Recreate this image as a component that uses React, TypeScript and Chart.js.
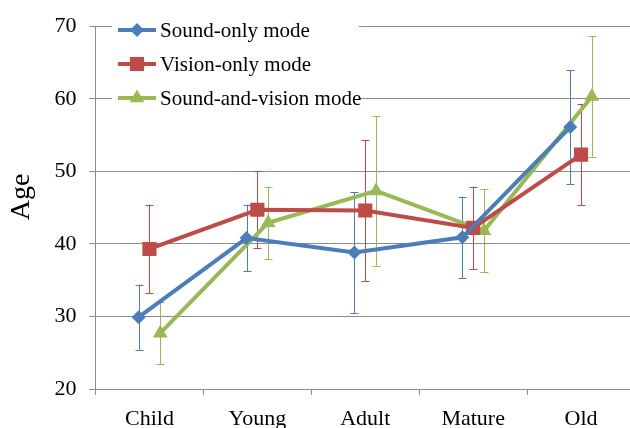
import React, { useEffect, useRef } from 'react';
import { Chart, registerables } from 'chart.js';
Chart.register(...registerables);

const categories = ['Child', 'Young', 'Adult', 'Mature', 'Old'];
const seriesNames = ['Sound-only mode', 'Vision-only mode', 'Sound-and-vision mode'];
const soundOnly = [29.9, 40.8, 38.8, 40.9, 56.1];
const soundOnlyErr = [4.5, 4.6, 8.3, 5.6, 7.8];
const visionOnly = [39.3, 44.7, 44.6, 42.2, 52.3];
const visionOnlyErr = [6.1, 5.3, 9.7, 5.7, 7.0];
const soundVision = [27.7, 42.9, 47.3, 41.8, 60.3];
const soundVisionErr = [4.3, 5.0, 10.3, 5.7, 8.3];
const yTicks = [20, 30, 40, 50, 60, 70];
const yTitle = 'Age';

const colors = ['#4a7ebb', '#be4b48', '#98b954'];
const markers = ['rectRot', 'rect', 'triangle'];
const radii = [7, 10, 8.5];
const xOffsets = [-0.1, 0, 0.1];
const FONT = '"Liberation Serif", "Times New Roman", serif';
const GRID = '#8c8c8c';

const seriesValues = [soundOnly, visionOnly, soundVision];
const seriesErrors = [soundOnlyErr, visionOnlyErr, soundVisionErr];

function drawMarker(ctx: CanvasRenderingContext2D, style: string, x: number, y: number, r: number) {
  ctx.beginPath();
  if (style === 'rectRot') {
    ctx.moveTo(x, y - r);
    ctx.lineTo(x + r, y);
    ctx.lineTo(x, y + r);
    ctx.lineTo(x - r, y);
  } else if (style === 'rect') {
    const s = Math.SQRT1_2 * r;
    ctx.rect(x - s, y - s, 2 * s, 2 * s);
  } else {
    const h = r * Math.sqrt(3) / 2;
    ctx.moveTo(x, y - r);
    ctx.lineTo(x + h, y + r / 2);
    ctx.lineTo(x - h, y + r / 2);
  }
  ctx.closePath();
  ctx.fill();
}

const errorBarPlugin = {
  id: 'errorBars',
  beforeDatasetsDraw(chart: any) {
    const ctx = chart.ctx;
    const xs = chart.scales.xl;
    const ys = chart.scales.y;
    ctx.save();
    seriesValues.forEach((vals, s) => {
      ctx.strokeStyle = colors[s];
      ctx.lineWidth = 1;
      vals.forEach((v, i) => {
        const x = Math.round(xs.getPixelForValue(i + xOffsets[s])) + 0.5;
        const t = ys.getPixelForValue(v + seriesErrors[s][i]);
        const b = ys.getPixelForValue(v - seriesErrors[s][i]);
        ctx.beginPath();
        ctx.moveTo(x, t);
        ctx.lineTo(x, b);
        ctx.moveTo(x - 4, Math.round(t) + 0.5);
        ctx.lineTo(x + 4, Math.round(t) + 0.5);
        ctx.moveTo(x - 4, Math.round(b) + 0.5);
        ctx.lineTo(x + 4, Math.round(b) + 0.5);
        ctx.stroke();
      });
    });
    ctx.restore();
  },
};

const legendPlugin = {
  id: 'customLegend',
  afterDatasetsDraw(chart: any) {
    const ctx = chart.ctx;
    ctx.save();
    ctx.fillStyle = '#ffffff';
    ctx.fillRect(112, 8, 247, 104);
    const rows = [30, 64, 98];
    seriesNames.forEach((name, s) => {
      const y = rows[s];
      ctx.strokeStyle = colors[s];
      ctx.lineWidth = 4;
      ctx.beginPath();
      ctx.moveTo(118, y);
      ctx.lineTo(156, y);
      ctx.stroke();
      ctx.fillStyle = colors[s];
      drawMarker(ctx, markers[s], 137, y, radii[s]);
      ctx.fillStyle = '#000000';
      ctx.font = `21px ${FONT}`;
      ctx.textBaseline = 'middle';
      ctx.textAlign = 'left';
      ctx.fillText(name, 160, y + 1);
    });
    // y-axis title
    ctx.save();
    ctx.translate(22, 197);
    ctx.rotate(-Math.PI / 2);
    ctx.font = `28px ${FONT}`;
    ctx.textAlign = 'center';
    ctx.textBaseline = 'middle';
    ctx.fillStyle = '#000000';
    ctx.fillText(yTitle, 0, 0);
    ctx.restore();
    ctx.restore();
  },
};

export default function App() {
  const ref = useRef<HTMLCanvasElement | null>(null);
  useEffect(() => {
    if (!ref.current) return;
    const datasets = seriesValues.map((vals, s) => ({
      label: seriesNames[s],
      data: vals.map((v, i) => ({ x: i + xOffsets[s], y: v })),
      xAxisID: 'xl',
      yAxisID: 'y',
      borderColor: colors[s],
      backgroundColor: colors[s],
      borderWidth: 4,
      pointStyle: markers[s] as any,
      pointRadius: radii[s],
      pointBorderWidth: 0,
      pointBackgroundColor: colors[s],
      tension: 0,
    }));
    const chart = new Chart(ref.current, {
      type: 'line',
      data: { labels: categories, datasets },
      options: {
        animation: false,
        responsive: false,
        layout: { padding: { top: 19, right: 5, left: 0, bottom: 0 } },
        plugins: { legend: { display: false }, tooltip: { enabled: false } },
        scales: {
          x: {
            type: 'category',
            labels: categories,
            offset: true,
            position: 'bottom',
            grid: { offset: true, drawOnChartArea: false, drawTicks: true, tickLength: 6, color: GRID },
            border: { color: GRID, width: 1 },
            ticks: { color: '#000', font: { family: FONT, size: 22 }, padding: 11, maxRotation: 0 },
            afterFit: (sc: any) => { sc.height = 51; },
          },
          xl: {
            type: 'linear',
            display: false,
            min: -0.5,
            max: 4.5,
          },
          y: {
            type: 'linear',
            min: 20,
            max: 70,
            afterBuildTicks: (sc: any) => { sc.ticks = yTicks.map((v) => ({ value: v })); },
            grid: { color: GRID, tickLength: 6, drawTicks: true },
            border: { color: GRID, width: 1 },
            ticks: { color: '#000', font: { family: FONT, size: 22 }, padding: 13 },
            title: { display: false },
            afterFit: (sc: any) => { sc.width = 95.5; },
          },
        },
      } as any,
      plugins: [errorBarPlugin, legendPlugin],
    });
    return () => chart.destroy();
  }, []);
  return (
    <div style={{ position: 'fixed', left: 0, top: 0, width: 630, height: 428, overflow: 'hidden', background: '#fff' }}>
      <canvas ref={ref} width={645} height={440} style={{ display: 'block' }} />
    </div>
  );
}
